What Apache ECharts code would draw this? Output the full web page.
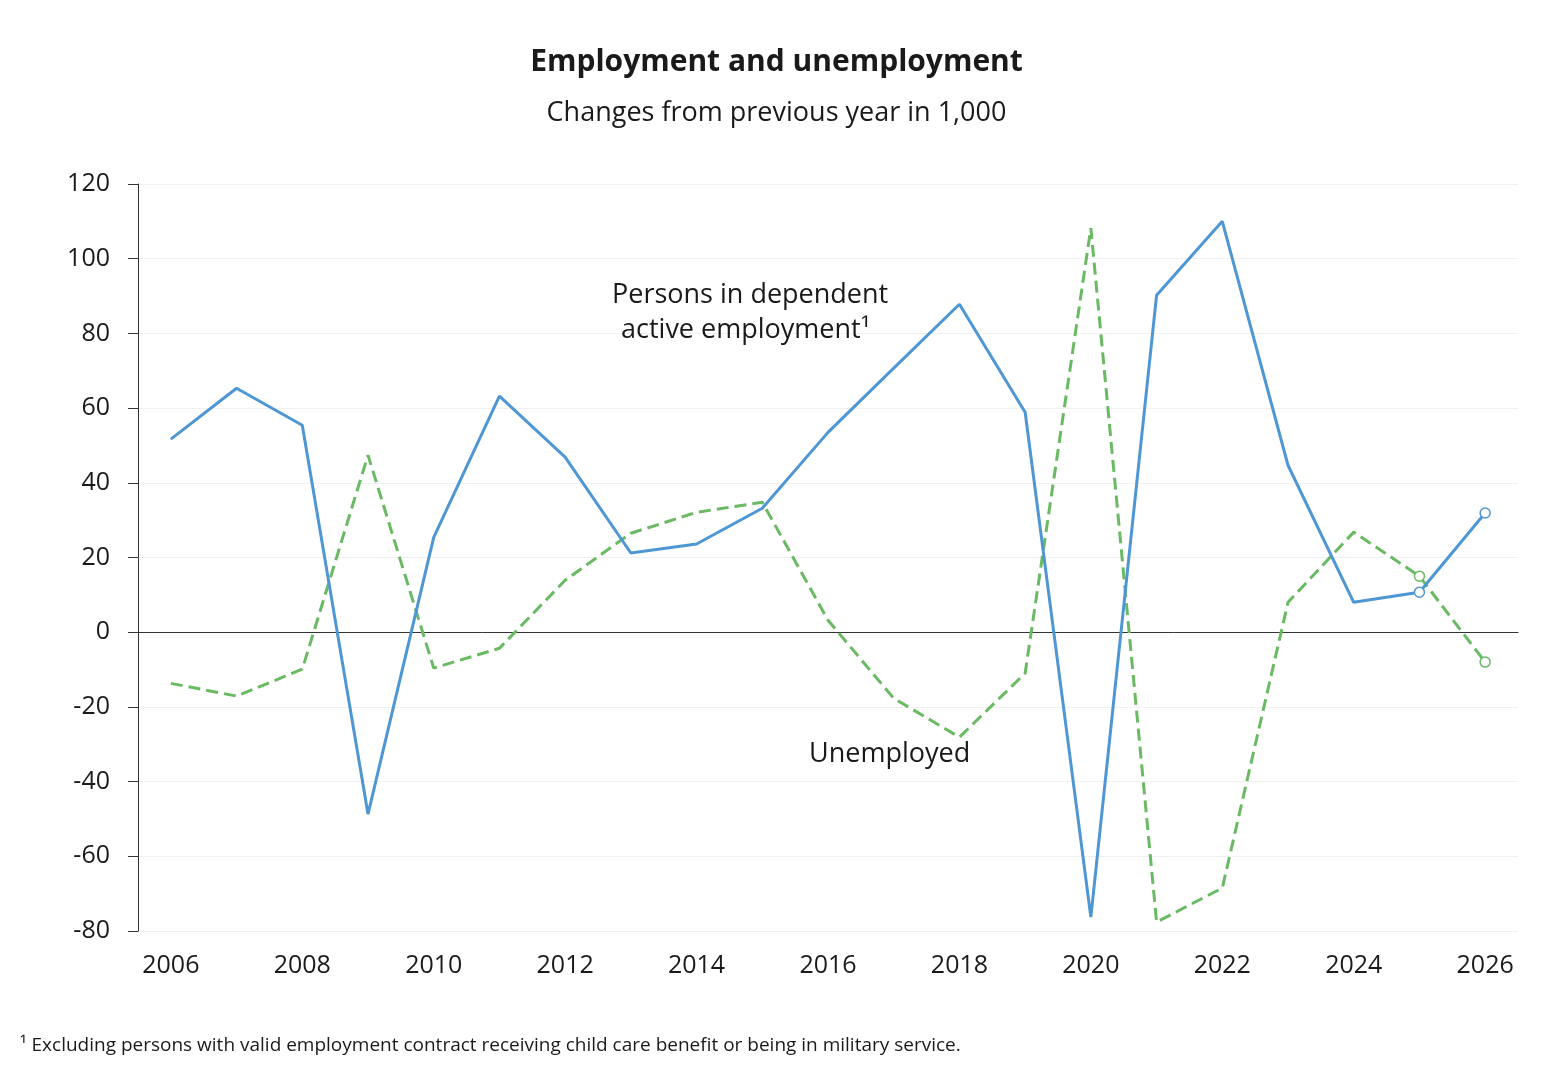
<!DOCTYPE html><html><head><meta charset="utf-8"><script src="https://cdn.jsdelivr.net/npm/echarts@6/dist/echarts.min.js"></script>
<style>body{margin:0}#c{width:1553px;height:1081px}</style></head><body><div id="c"></div><script>
const years=['2006','2007','2008','2009','2010','2011','2012','2013','2014','2015','2016','2017','2018','2019','2020','2021','2022','2023','2024','2025','2026'];
const employed=[51.7,65.3,55.4,-48.7,25.4,63.2,46.9,21.2,23.6,33.2,53.5,70.7,87.8,58.9,-76.3,90.2,110,44.7,8.0,10.7,31.9];
const unemployed=[-13.7,-17.1,-9.9,47.4,-9.6,-4.3,13.9,26.5,32.1,34.8,3.2,-17.7,-28.1,-11,108.2,-77.6,-68.5,8,26.8,15,-8];
const yTicks={min:-80,max:120,interval:20};
const F='"Open Sans",sans-serif';
function mk(arr,col,type){return {type:'line',data:arr.map((v,i)=>({value:v,symbol:i>=19?'circle':'none'})),symbolSize:10,showSymbol:true,
 lineStyle:{color:col,width:3,type:type},itemStyle:{color:'#fff',borderColor:col,borderWidth:1.5},z:type==='solid'?3:2};}
const ch=echarts.init(document.getElementById('c'));
ch.setOption({animation:false,
title:[{text:'Employment and unemployment',left:'center',top:42,textStyle:{fontFamily:F,fontSize:30,fontWeight:'bold',color:'#1a1a1a'}},
{text:'Changes from previous year in 1,000',left:'center',top:95,textStyle:{fontFamily:F,fontSize:27,fontWeight:'normal',color:'#1a1a1a'}}],
grid:{left:138,right:35,top:184,bottom:150,containLabel:false,outerBoundsMode:'none'},
xAxis:{type:'category',data:years,boundaryGap:true,axisLine:{onZero:true,lineStyle:{color:'#333'}},axisTick:{interval:0,length:10,lineStyle:{color:'#333'}},
 axisLabel:{interval:1,fontFamily:F,fontSize:25,color:'#1a1a1a',margin:22}},
yAxis:{type:'value',min:yTicks.min,max:yTicks.max,interval:yTicks.interval,axisLine:{show:true,lineStyle:{color:'#333'}},axisTick:{show:true,length:10,lineStyle:{color:'#333'}},
 splitLine:{lineStyle:{color:'#f0f0f0'}},axisLabel:{fontFamily:F,fontSize:25,color:'#1a1a1a',margin:28}},
series:[mk(unemployed,'#6ab963','dashed'),mk(employed,'#4e97d4','solid')],
graphic:[{type:'text',left:612,top:282,z:10,style:{text:'Persons in dependent',font:'27px '+F,fill:'#1a1a1a'}},
{type:'text',left:621,top:317,z:10,style:{text:'active employment¹',font:'27px '+F,fill:'#1a1a1a'}},
{type:'text',left:809,top:741,z:10,style:{text:'Unemployed',font:'27px '+F,fill:'#1a1a1a'}},
{type:'text',left:20,top:1036,z:10,style:{text:'¹ Excluding persons with valid employment contract receiving child care benefit or being in military service.',font:'19px '+F,fill:'#1a1a1a'}}]
});
</script></body></html>
